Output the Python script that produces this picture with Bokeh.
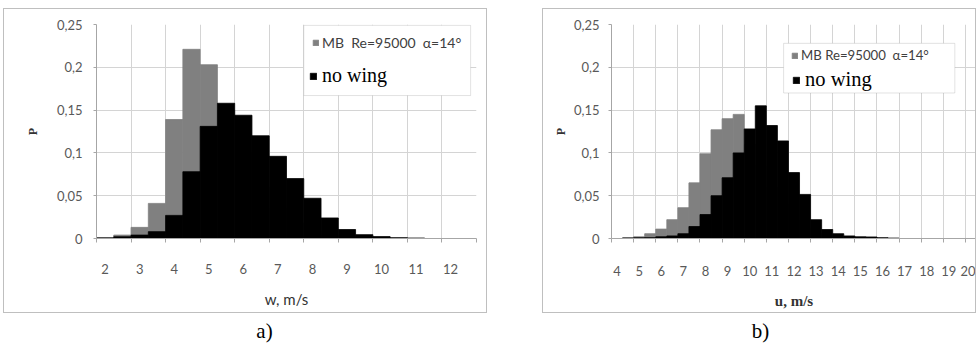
from bokeh.plotting import figure
from bokeh.models import (Range1d, FixedTicker, Legend, LegendItem, BoxAnnotation,
                          Label, Spacer)
from bokeh.layouts import row, column
from bokeh.embed import file_html
from bokeh.resources import INLINE

# ---------------- data ----------------
# panel a) : w, m/s  -- category of each 0.5 m/s column
w_cat = [2.0, 2.5, 3.0, 3.5, 4.0, 4.5, 5.0, 5.5, 6.0, 6.5, 7.0, 7.5, 8.0, 8.5,
         9.0, 9.5, 10.0, 10.5, 11.0]
w_mb = [0.001, 0.004, 0.013, 0.041, 0.139, 0.221, 0.203, 0.150, 0.100, 0.060,
        0.035, 0.018, 0.009, 0.004, 0.002, 0.001, 0.0005, 0.0002, 0.0001]
w_nowing = [0.0007, 0.002, 0.004, 0.008, 0.027, 0.078, 0.131, 0.158, 0.144, 0.120,
            0.096, 0.070, 0.047, 0.024, 0.0105, 0.0045, 0.0022, 0.001, 0.0005]

# panel b) : u, m/s
u_cat = [4.5, 5.0, 5.5, 6.0, 6.5, 7.0, 7.5, 8.0, 8.5, 9.0, 9.5, 10.0, 10.5, 11.0,
         11.5, 12.0, 12.5, 13.0, 13.5, 14.0, 14.5, 15.0, 15.5, 16.0, 16.5]
u_mb = [0.001, 0.002, 0.0056, 0.011, 0.022, 0.036, 0.065, 0.099, 0.127, 0.140,
        0.145, 0.110, 0.085, 0.060, 0.040, 0.022, 0.012, 0.006, 0.003, 0.0015,
        0.0008, 0.0004, 0.0002, 0.0001, 0.0]
u_nowing = [0.0005, 0.0008, 0.001, 0.002, 0.003, 0.0056, 0.014, 0.028, 0.050, 0.071,
            0.100, 0.128, 0.155, 0.132, 0.114, 0.077, 0.0515, 0.022, 0.0105, 0.0056,
            0.003, 0.002, 0.0018, 0.001, 0.0005]
bar_width = 0.5

y_ticks = [0, 0.05, 0.1, 0.15, 0.2, 0.25]
y_tick_labels = ["0", "0,05", "0,1", "0,15", "0,2", "0,25"]
w_ticks = [2, 3, 4, 5, 6, 7, 8, 9, 10, 11, 12]
u_ticks = [4, 5, 6, 7, 8, 9, 10, 11, 12, 13, 14, 15, 16, 17, 18, 19, 20]

label_mb_a = "MB\u00a0 Re=95000\u00a0 α=14°"
label_mb_b = "MB Re=95000\u00a0 α=14°"
label_nowing = "no wing"

# ---------------- styles ----------------
GREY = "#808080"
BLACK = "#000000"
GRID = "#d4d4d4"
AXIS = "#a6a6a6"
TICK_TXT = "#595959"
BORDER = "#bfbfbf"
SANS = "Lato"
SERIF = "Liberation Serif"


def make_panel(width, height, x_start, x_end, x_ticks, bins, mb, nowing,
               ml, mr, mt, mb_, xlabel, xlabel_font, xlabel_style, xlabel_size,
               ylab_standoff, ytick_standoff, xtick_standoff, xlab_standoff,
               legend_label_mb, leg_fonts, leg_pos, box):
    p = figure(width=width, height=height, output_backend="svg", toolbar_location=None,
               x_range=Range1d(x_start, x_end), y_range=Range1d(0, 0.25),
               min_border_left=ml, min_border_right=mr, min_border_top=mt,
               min_border_bottom=mb_, outline_line_color=None,
               styles={"border": f"1px solid {BORDER}", "box-sizing": "border-box"})
    r_mb = p.vbar(x=bins, top=mb, width=bar_width, fill_color=GREY,
                  line_color=GREY, line_width=0.8)
    r_nw = p.vbar(x=bins, top=nowing, width=bar_width, fill_color=BLACK,
                  line_color=BLACK, line_width=0.8)

    # category boundaries (gridlines / small ticks lie between the columns)
    bounds = [t - bar_width / 2 for t in x_ticks] + [x_end]

    # axes
    p.xaxis.ticker = FixedTicker(ticks=x_ticks, minor_ticks=bounds)
    p.xaxis.axis_line_color = AXIS
    p.xaxis.major_tick_out = 0
    p.xaxis.major_tick_in = 0
    p.xaxis.minor_tick_line_color = AXIS
    p.xaxis.minor_tick_out = 4
    p.xaxis.minor_tick_in = 0
    p.xaxis.major_label_text_font = SANS
    p.xaxis.major_label_text_font_size = "13px"
    p.xaxis.major_label_text_color = TICK_TXT
    p.xaxis.major_label_standoff = xtick_standoff
    p.xaxis.axis_label = xlabel
    p.xaxis.axis_label_text_font = xlabel_font
    p.xaxis.axis_label_text_font_style = xlabel_style
    p.xaxis.axis_label_text_font_size = xlabel_size
    p.xaxis.axis_label_text_color = "#333333"
    p.xaxis.axis_label_standoff = xlab_standoff

    p.yaxis.ticker = FixedTicker(ticks=y_ticks)
    p.yaxis.major_label_overrides = {t: s for t, s in zip(y_ticks, y_tick_labels)}
    p.yaxis.minor_tick_line_color = None
    p.yaxis.axis_line_color = AXIS
    p.yaxis.major_tick_line_color = AXIS
    p.yaxis.major_tick_out = 3
    p.yaxis.major_tick_in = 0
    p.yaxis.major_label_text_font = SANS
    p.yaxis.major_label_text_font_size = "13px"
    p.yaxis.major_label_text_color = TICK_TXT
    p.yaxis.major_label_standoff = ytick_standoff
    p.yaxis.axis_label = "P"
    p.yaxis.axis_label_text_font = SERIF
    p.yaxis.axis_label_text_font_style = "bold"
    p.yaxis.axis_label_text_font_size = "12px"
    p.yaxis.axis_label_text_color = "#333333"
    p.yaxis.axis_label_standoff = ylab_standoff

    p.xgrid.ticker = FixedTicker(ticks=bounds)
    p.ygrid.ticker = FixedTicker(ticks=y_ticks)
    p.xgrid.grid_line_color = GRID
    p.ygrid.grid_line_color = GRID

    # legend frame
    bl, br, bt, bb = box
    p.add_layout(BoxAnnotation(left=bl, right=br, top=bt, bottom=bb,
                               fill_color="white", fill_alpha=1.0,
                               line_color="#a0a0a0", line_width=1))
    (x1, y1), (x2, y2) = leg_pos
    f1, f2 = leg_fonts
    leg1 = Legend(items=[LegendItem(label=legend_label_mb, renderers=[r_mb])],
                  location=(x1, y1), label_text_font=SANS, label_text_font_size=f1,
                  label_text_color="#404040", glyph_width=7, glyph_height=7,
                  label_height=7, label_standoff=3, padding=0, margin=0, spacing=0,
                  border_line_color=None, background_fill_alpha=0)
    leg2 = Legend(items=[LegendItem(label=label_nowing, renderers=[r_nw])],
                  location=(x2, y2), label_text_font=SERIF, label_text_font_size=f2,
                  label_text_color="#000000", glyph_width=8, glyph_height=8,
                  label_height=8, label_standoff=5, padding=0, margin=0, spacing=0,
                  border_line_color=None, background_fill_alpha=0)
    p.add_layout(leg1)
    p.add_layout(leg2)
    return p


pa = make_panel(484, 305, 1.75, 12.75, w_ticks, w_cat, w_mb, w_nowing,
                92, 12, 15, 76, "w, m/s", SANS, "normal", "15px",
                ylab_standoff=14, ytick_standoff=11, xtick_standoff=21, xlab_standoff=13,
                legend_label_mb=label_mb_a, leg_fonts=("14px", "20px"),
                leg_pos=((216, 187), (213, 151)),
                box=(7.75, 12.58, 0.249, 0.167))

pb = make_panel(434, 305, 3.75, 20.25, u_ticks, u_cat, u_mb, u_nowing,
                68, 1, 15, 71, "u, m/s", SERIF, "bold", "15px",
                ylab_standoff=3, ytick_standoff=9, xtick_standoff=23, xlab_standoff=14,
                legend_label_mb=label_mb_b, leg_fonts=("13.2px", "20.5px"),
                leg_pos=((180, 175), (181, 147)),
                box=(11.53, 19.27, 0.228, 0.170))

cap = figure(width=976, height=38, output_backend="svg", toolbar_location=None,
             x_range=Range1d(0, 976), y_range=Range1d(0, 38), min_border=0,
             outline_line_color=None)
cap.axis.visible = False
cap.grid.visible = False
cap.add_layout(Label(x=264, y=21, text="a)", text_align="center", text_baseline="middle",
                     text_font=SERIF, text_font_size="21px", text_color="black"))
cap.add_layout(Label(x=760, y=21, text="b)", text_align="center", text_baseline="middle",
                     text_font=SERIF, text_font_size="21px", text_color="black"))

layout = column(Spacer(width=976, height=8),
                row(Spacer(width=3, height=305), pa, Spacer(width=55, height=305), pb),
                cap)

open("out.html", "w").write(file_html(layout, INLINE))
